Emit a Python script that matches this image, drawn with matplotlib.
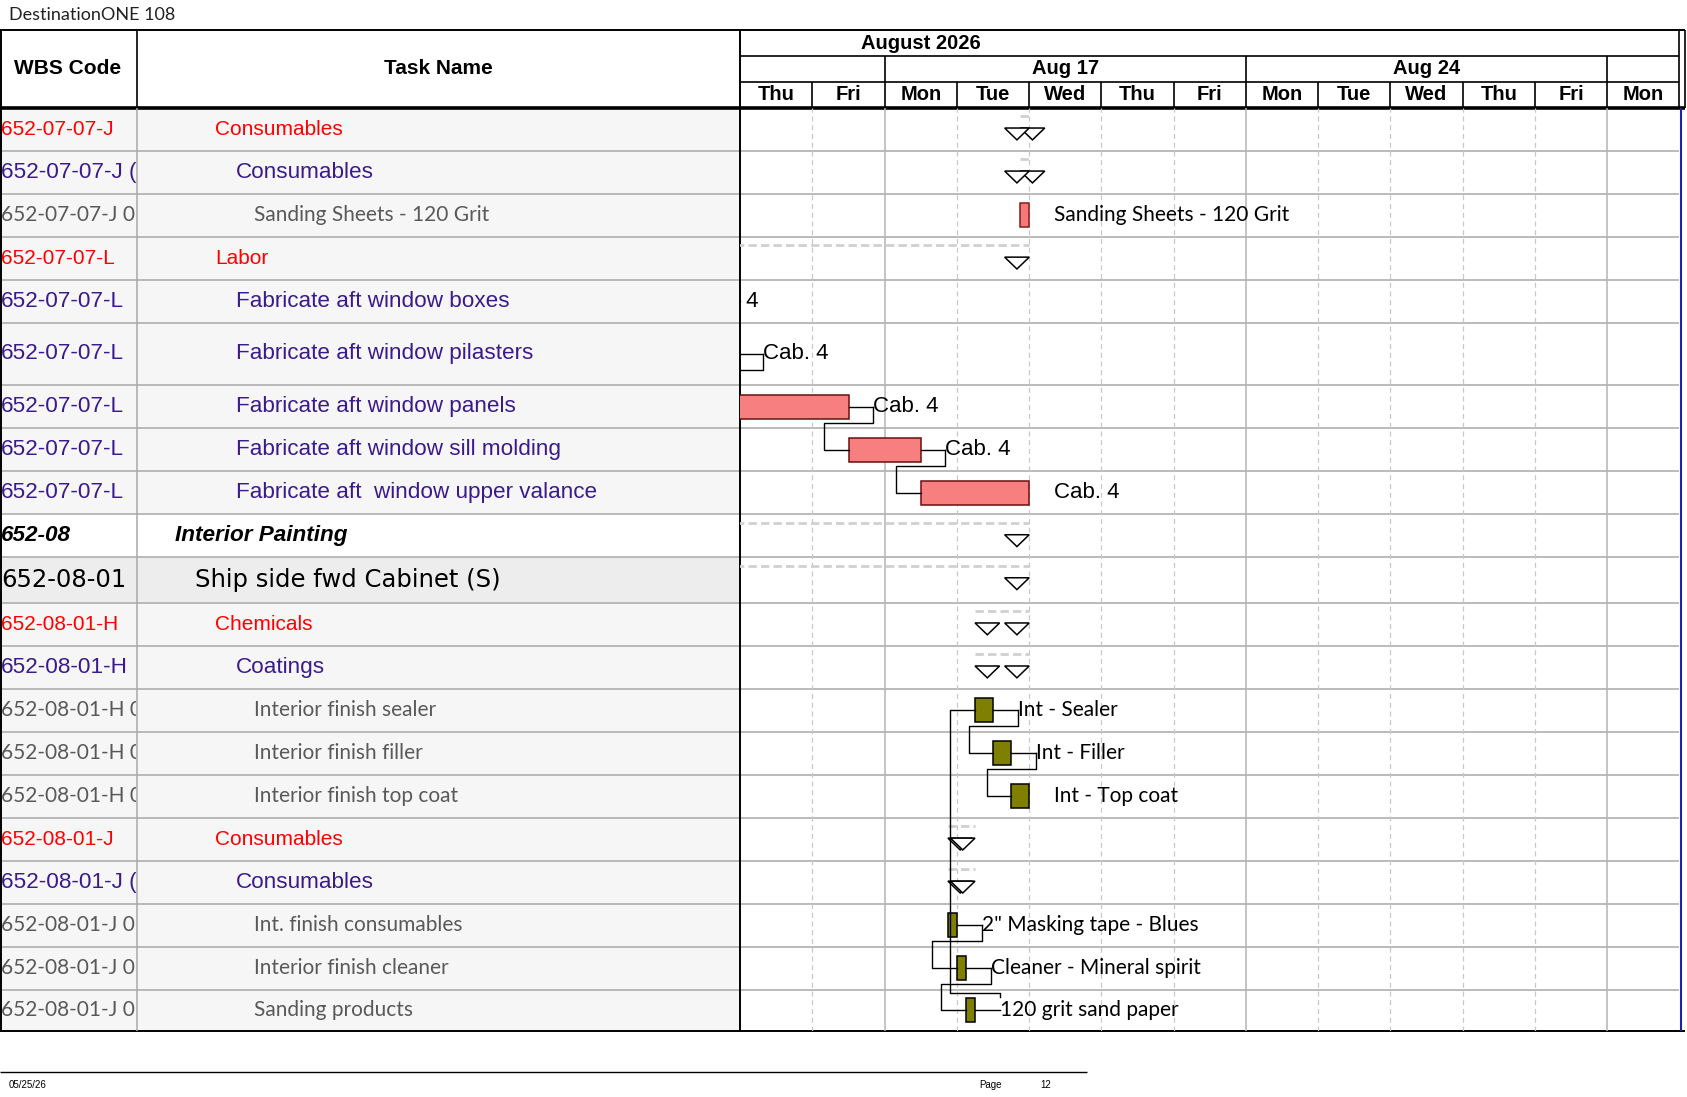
import numpy as np
import matplotlib.pyplot as plt
from matplotlib.patches import Rectangle, Polygon

# page grid used for the layout (scaled onto the 1687x1097 png)
W0, H0 = 1568.0, 1019.6

days = ['Thu', 'Fri', 'Mon', 'Tue', 'Wed', 'Thu', 'Fri', 'Mon', 'Tue', 'Wed', 'Thu', 'Fri', 'Mon']
week_labels = ['', 'Aug 17', 'Aug 24', '']
week_edges = [0, 2, 7, 12, 13]
month_label = 'August 2026'

wbs = ['652-07-07-J', '652-07-07-J (J)', '652-07-07-J 01', '652-07-07-L', '652-07-07-L',
       '652-07-07-L', '652-07-07-L', '652-07-07-L', '652-07-07-L', '652-08', '652-08-01',
       '652-08-01-H', '652-08-01-H', '652-08-01-H 01', '652-08-01-H 01', '652-08-01-H 01',
       '652-08-01-J', '652-08-01-J (J)', '652-08-01-J 01', '652-08-01-J 01', '652-08-01-J 01']
names = ['Consumables', 'Consumables', 'Sanding Sheets - 120 Grit', 'Labor',
         'Fabricate aft window boxes', 'Fabricate aft window pilasters',
         'Fabricate aft window panels', 'Fabricate aft window sill molding',
         'Fabricate aft  window upper valance', 'Interior Painting', 'Ship side fwd Cabinet (S)',
         'Chemicals', 'Coatings', 'Interior finish sealer', 'Interior finish filler',
         'Interior finish top coat', 'Consumables', 'Consumables', 'Int. finish consumables',
         'Interior finish cleaner', 'Sanding products']
kind = ['sum3', 'sum4', 'task', 'sum3', 'sum4', 'sum4', 'sum4', 'sum4', 'sum4', 'sum1', 'sum2',
        'sum3', 'sum4', 'task', 'task', 'task', 'sum3', 'sum4', 'task', 'task', 'task']
row_h = [40] * 5 + [58] + [40] * 4 + [42] + [40] * 9 + [38]

# task bars (x in working days from Thu Aug 13)
bar_rows = [2, 4, 5, 6, 7, 8, 13, 14, 15, 18, 19, 20]
bar_start = [3.875, -2.0, -1.5, -1.0, 1.5, 2.5, 3.25, 3.5, 3.75, 2.875, 3.0, 3.125]
bar_end = [4.0, -1.0, -0.02, 1.5, 2.5, 4.0, 3.5, 3.75, 4.0, 3.0, 3.125, 3.25]
bar_text = ['Sanding Sheets - 120 Grit', 'Cab. 4', 'Cab. 4', 'Cab. 4', 'Cab. 4', 'Cab. 4',
            'Int - Sealer', 'Int - Filler', 'Int - Top coat', '2" Masking tape - Blues',
            'Cleaner - Mineral spirit', '120 grit sand paper']
bar_kind = ['mat', 'lab', 'lab', 'lab', 'lab', 'lab', 'chem', 'chem', 'chem', 'chem', 'chem', 'chem']

# predecessor row -> successor row
links = [(4, 5), (5, 6), (6, 7), (7, 8), (13, 14), (14, 15), (18, 19), (19, 20), (20, 13)]

# summary rows
sum_rows = [0, 1, 3, 9, 10, 11, 12, 16, 17]
sum_start = [3.875, 3.875, -3.0, -3.0, -3.0, 3.25, 3.25, 2.875, 2.875]
sum_end = [4.0, 4.0, 4.0, 4.0, 4.0, 4.0, 4.0, 3.25, 3.25]

TOP, HEAD, BOT = 28, 100, 958
X_TASK, X_GANTT, X_END = 127, 688, 1561

tops = HEAD + np.concatenate([[0], np.cumsum(row_h)[:-1]])
centers = tops + np.array(row_h) / 2.0

styles = {
    'sum3': dict(color='#ff0000', family='Liberation Sans', size=15),
    'sum4': dict(color='#3a1a8c', family='Liberation Sans', size=16.2),
    'task': dict(color='#595959', family='Lato', size=15),
    'sum1': dict(color='black', family='Liberation Sans', size=16.2, weight='bold', style='italic'),
    'sum2': dict(color='black', family='DejaVu Sans', size=17.5),
}
indent = {'sum3': 200, 'sum4': 219, 'task': 236, 'sum1': 163, 'sum2': 181}
bar_fc = {'mat': '#f47a7a', 'lab': '#f77f7f', 'chem': '#808000'}
bar_ec = {'mat': '#8b1a1a', 'lab': '#6b1010', 'chem': 'black'}
GAP = 0.34


def frac(x0, y0, x1, y1):
    return [x0 / W0, 1 - y1 / H0, (x1 - x0) / W0, (y1 - y0) / H0]


fig = plt.figure(figsize=(16.87, 10.97), dpi=100)
bg = fig.add_axes([0, 0, 1, 1])
bg.set_xlim(0, W0); bg.set_ylim(H0, 0); bg.axis('off')

# row backgrounds of the table part
for i, k in enumerate(kind):
    fc = {'sum1': 'white', 'sum2': '#ededed'}.get(k, '#f6f6f6')
    bg.add_patch(Rectangle((0, tops[i]), X_GANTT, row_h[i], fc=fc, ec='none', zorder=0))
bg.hlines(tops[1:], 0, X_END, color='#a8a8a8', lw=1.1, zorder=1)

# frame
bg.hlines(TOP, 0, 1566, color='black', lw=1.4)
bg.hlines(HEAD, 0, 1566, color='black', lw=2.6)
bg.hlines(BOT, 0, 1566, color='black', lw=1.4)
bg.vlines(0.8, TOP, BOT, color='black', lw=1.4)
bg.vlines(X_TASK, TOP, HEAD, color='black', lw=1.2)
bg.vlines(X_TASK, HEAD, BOT, color='#a8a8a8', lw=1.1)
bg.vlines(X_GANTT, TOP, BOT, color='black', lw=1.4)
bg.vlines([X_END, 1566], TOP, HEAD, color='black', lw=1.2)
bg.vlines(1562.5, HEAD, BOT, color='#1f1fa8', lw=1.5)
bg.text(63, 64, 'WBS Code', ha='center', va='center', family='Liberation Sans',
        weight='bold', size=15)
bg.text(407, 64, 'Task Name', ha='center', va='center', family='Liberation Sans',
        weight='bold', size=15)
bg.text(8, 14, 'DestinationONE 108', ha='left', va='center', family='Lato',
        color='#222222', size=13)

# footer
bg.hlines(996, 0, 1010, color='black', lw=1.0)
bg.text(8, 1008, '05/25/26', ha='left', va='center', family='Liberation Sans', size=7)
bg.text(910, 1008, 'Page', ha='left', va='center', family='Liberation Sans', size=7)
bg.text(967, 1008, '12', ha='left', va='center', family='Liberation Sans', size=7)

# WBS and Task Name columns (clipped like the table cells)
ax_w = fig.add_axes(frac(0, HEAD, X_TASK - 1, BOT))
ax_w.set_xlim(0, X_TASK - 1); ax_w.set_ylim(BOT, HEAD); ax_w.axis('off')
ax_t = fig.add_axes(frac(X_TASK, HEAD, X_GANTT, BOT))
ax_t.set_xlim(X_TASK, X_GANTT); ax_t.set_ylim(BOT, HEAD); ax_t.axis('off')
for i in range(len(wbs)):
    st = styles[kind[i]]
    ax_t.text(indent[kind[i]], centers[i], names[i], ha='left', va='center', clip_on=True, **st)
    ax_w.text(1, centers[i], wbs[i], ha='left', va='center', clip_on=True, **st)

# timescale header
ax_h = fig.add_axes(frac(X_GANTT, TOP, X_END, HEAD))
ax_h.set_xlim(0, len(days)); ax_h.set_ylim(HEAD, TOP); ax_h.axis('off')
ax_h.hlines([52, 76], 0, len(days), color='black', lw=1.2)
ax_h.vlines(week_edges[1:-1], 52, 76, color='black', lw=1.2)
ax_h.vlines(np.arange(1, len(days)), 76, HEAD, color='black', lw=1.2)
ax_h.text(2.5, 40, month_label, ha='center', va='center', family='Liberation Sans',
          weight='bold', size=14.5)
for j, lab in enumerate(week_labels):
    ax_h.text((week_edges[j] + week_edges[j + 1]) / 2, 64, lab, ha='center', va='center',
              family='Liberation Sans', weight='bold', size=14.5)
for j, d in enumerate(days):
    ax_h.text(j + 0.5, 88, d, ha='center', va='center', family='Liberation Sans',
              weight='bold', size=14.5)

# gantt body
ax_g = fig.add_axes(frac(X_GANTT, HEAD, X_END, BOT))
ax_g.set_xlim(0, len(days)); ax_g.set_ylim(BOT, HEAD); ax_g.axis('off')
ax_g.patch.set_visible(False)
for k in range(1, len(days)):
    if k in week_edges:
        ax_g.axvline(k, color='#b4b4b4', lw=1.1, zorder=1)
    else:
        ax_g.axvline(k, color='#c8c8c8', lw=0.9, ls=(0, (4, 3)), zorder=1)

tw, th = 0.34, 11
for r, s, e in zip(sum_rows, sum_start, sum_end):
    y0 = tops[r]
    ax_g.plot([s, e], [y0 + 8, y0 + 8], color='#d0d0d0', lw=2.0, ls=(0, (3, 1.5)), zorder=2)
    for xl in (s, e - tw):
        ax_g.add_patch(Polygon([[xl, y0 + 19], [xl + tw, y0 + 19], [xl + tw / 2, y0 + 19 + th]],
                               closed=True, fc='white', ec='black', lw=1.1, zorder=3))

row_to_bar = {r: i for i, r in enumerate(bar_rows)}
preds = [p for p, _ in links]
for i, r in enumerate(bar_rows):
    c = centers[r]
    ax_g.add_patch(Rectangle((bar_start[i], c - 11), bar_end[i] - bar_start[i], 22,
                             fc=bar_fc[bar_kind[i]], ec=bar_ec[bar_kind[i]], lw=1.1, zorder=4))
    lx = bar_end[i] + GAP
    if r in preds:
        ax_g.plot([max(bar_end[i], 0), lx], [c, c], color='black', lw=1.0, zorder=4)
    if bar_kind[i] == 'lab':
        fnt = dict(family='Liberation Sans', size=16)
    else:
        fnt = dict(family='Lato', size=15)
    ax_g.text(lx, c, bar_text[i], ha='left', va='center', color='black', clip_on=True,
              zorder=5, **fnt)

for p, s in links:
    ip, js = row_to_bar[p], row_to_bar[s]
    xp = bar_end[ip] + GAP
    yp, ys = centers[p], centers[s]
    if ys > yp:
        y_start, ymid = yp, yp + 15
    else:
        y_start, ymid = yp - 12, yp - 16
    xs = bar_start[js]
    ax_g.plot([xp, xp, xs - GAP, xs - GAP, xs], [y_start, ymid, ymid, ys, ys],
              color='black', lw=1.0, zorder=4)

fig.savefig('out.png', dpi=100)
